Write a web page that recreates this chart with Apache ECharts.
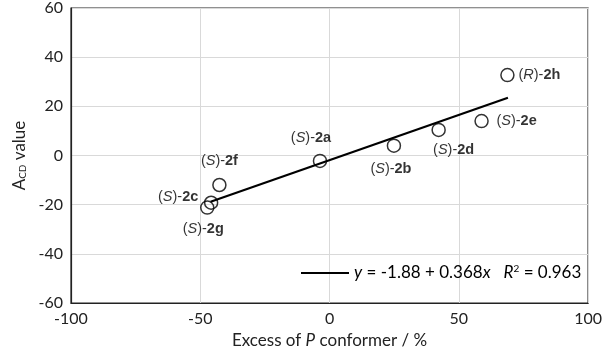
<!DOCTYPE html>
<html>
<head>
<meta charset="utf-8">
<script src="https://cdn.jsdelivr.net/npm/echarts@6/dist/echarts.min.js"></script>
<style>html,body{margin:0;padding:0;background:#fff;}#c{width:605px;height:354px;}</style>
</head>
<body>
<div id="c"></div>
<script>
const compounds = ['2a','2b','2c','2d','2e','2f','2g','2h'];
const config = ['S','S','S','S','S','S','S','R'];
const excessP = [-3.7, 24.9, -45.8, 42.2, 58.8, -42.6, -47.3, 68.8];
const acdValue = [-2.2, 4.0, -19.2, 10.4, 14.0, -12.0, -21.2, 32.7];
const fitIntercept = -1.88;
const fitSlope = 0.368;
const fitR2 = 0.963;
const fitXRange = [-46, 69];
const xTicks = [-100, -50, 0, 50, 100];
const yTicks = [-60, -40, -20, 0, 20, 40, 60];

// label placement (style only)
const labelOffsets = {
  '2a': [-9, -23], '2b': [-3, 23], '2c': [-33, -6], '2d': [15, 20],
  '2e': [35, 0], '2f': [0, -24], '2g': [-4, 21], '2h': [32, 0]
};

const chart = echarts.init(document.getElementById('c'));
const LF = 14.5;
const labelRich = {
  it: {fontStyle: 'italic', fontFamily: 'Liberation Sans', fontSize: LF, color: '#000'},
  b: {fontWeight: 'bold', fontFamily: 'Liberation Sans', fontSize: LF, color: '#000'},
  n: {fontFamily: 'Liberation Sans', fontSize: LF, color: '#000'}
};
const scatterData = compounds.map((c, i) => ({
  value: [excessP[i], acdValue[i]],
  label: {
    show: true, position: 'inside', offset: labelOffsets[c],
    formatter: '{n|(}{it|' + config[i] + '}{n|)-}{b|' + c + '}',
    rich: labelRich
  }
}));
const fitData = fitXRange.map(x => [x, fitIntercept + fitSlope * x]);

const axisFont = {fontFamily: 'Lato', fontSize: 16, color: '#222'};
chart.setOption({
  animation: false,
  grid: {left: 71, right: 15, top: 8, bottom: 51, show: true, borderColor: '#222', borderWidth: 1.2},
  xAxis: {
    type: 'value', min: -100, max: 100, interval: 50,
    axisLine: {show: true, onZero: false, lineStyle: {color: '#222', width: 1.2}},
    axisTick: {show: false},
    axisLabel: Object.assign({margin: 8, formatter: v => xTicks.includes(v) ? String(v) : ''}, axisFont),
    splitLine: {show: true, lineStyle: {color: '#d9d9d9', width: 1}},
    name: '{n|Excess of }{i|P}{n| conformer / %}',
    nameLocation: 'middle', nameGap: 28,
    nameTextStyle: {rich: {n: {fontFamily: 'Lato', fontSize: 17, color: '#222'}, i: {fontFamily: 'Lato', fontStyle: 'italic', fontSize: 17, color: '#222'}}}
  },
  yAxis: {
    type: 'value', min: -60, max: 60, interval: 20,
    axisLine: {show: true, onZero: false, lineStyle: {color: '#222', width: 1.2}},
    axisTick: {show: false},
    axisLabel: Object.assign({margin: 8, formatter: v => yTicks.includes(v) ? String(v) : ''}, axisFont),
    splitLine: {show: true, lineStyle: {color: '#d9d9d9', width: 1}},
    name: '{n|A}{s|CD}{n| value}',
    nameLocation: 'middle', nameGap: 42, nameRotate: 90,
    nameTextStyle: {rich: {n: {fontFamily: 'Lato', fontSize: 17, color: '#222'}, s: {fontFamily: 'Lato', fontSize: 10, color: '#222', verticalAlign: 'bottom', padding: [7, 0, 0, 0]}}}
  },
  legend: {
    show: true, left: 296, top: 259, itemWidth: 48, itemHeight: 2, itemGap: 3,
    data: [{name: 'fit', icon: 'rect', itemStyle: {color: '#000'}}],
    formatter: () => '{i|y}{n| = ' + fitIntercept + ' + ' + fitSlope + '}{i|x}{n|   }{i|R}{sup|2}{n| = ' + fitR2 + '}',
    textStyle: {
      rich: {
        n: {fontFamily: 'Lato', fontSize: 17, color: '#000'},
        i: {fontFamily: 'Lato', fontStyle: 'italic', fontSize: 17, color: '#000'},
        sup: {fontFamily: 'Lato', fontSize: 10, color: '#000', verticalAlign: 'top', padding: [0, 0, 8, 0]}
      }
    }
  },
  series: [
    {
      name: 'fit', type: 'line', data: fitData, symbol: 'none',
      lineStyle: {color: '#000', width: 2.2}, z: 2
    },
    {
      name: 'data', type: 'scatter', data: scatterData, symbol: 'circle', symbolSize: 13,
      itemStyle: {color: 'rgba(255,255,255,0)', borderColor: '#000', borderWidth: 1.5}, z: 3
    }
  ]
});
</script>
</body>
</html>
